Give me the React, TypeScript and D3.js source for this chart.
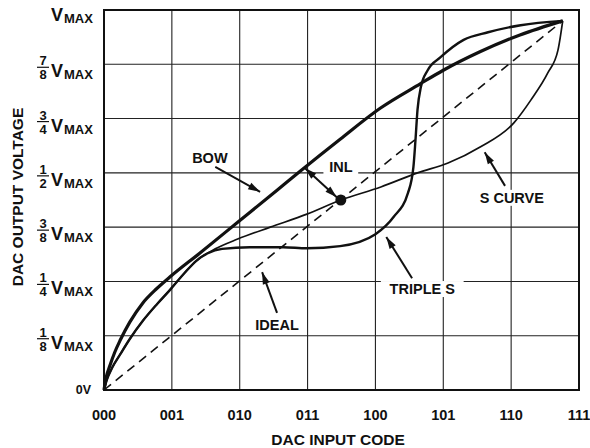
import React from "react";
import * as d3 from "d3";

// x = input code step (000..111), y = grid step (0V..VMAX)
const xCodes = ["000", "001", "010", "011", "100", "101", "110", "111"];
const yTickLabels = ["0V", "1/8", "1/4", "3/8", "1/2", "3/4", "7/8", "VMAX"];

const ideal: [number, number][] = [
  [0, 0],
  [6.76, 6.8],
];

const bow: [number, number][] = [
  [0, 0], [0.03, 0.22], [0.09, 0.46], [0.16, 0.7], [0.24, 0.92], [0.38, 1.25],
  [0.57, 1.6], [0.77, 1.86], [0.97, 2.08], [1.41, 2.52], [1.97, 3.09],
  [2.55, 3.68], [2.89, 4.03], [3.48, 4.62], [4.07, 5.19], [4.66, 5.64],
  [5.0, 5.89], [5.54, 6.23], [6.13, 6.54], [6.76, 6.8],
];

const sCurve: [number, number][] = [
  [0, 0], [0.04, 0.18], [0.12, 0.41], [0.24, 0.66], [0.38, 0.94], [0.57, 1.27],
  [0.78, 1.58], [0.97, 1.84], [1.19, 2.16], [1.36, 2.38], [1.64, 2.6],
  [1.97, 2.78], [2.45, 3.0], [2.99, 3.24], [3.49, 3.5], [4.08, 3.74],
  [4.62, 4.0], [5.07, 4.18], [5.55, 4.48], [6.04, 4.92], [6.29, 5.34],
  [6.54, 5.84], [6.69, 6.26], [6.76, 6.8],
];

const tripleS: [number, number][] = [
  [0, 0], [0.04, 0.18], [0.12, 0.41], [0.24, 0.66], [0.38, 0.94], [0.57, 1.27],
  [0.78, 1.58], [0.97, 1.84], [1.19, 2.16], [1.36, 2.38], [1.53, 2.52],
  [1.74, 2.6], [2.15, 2.63], [2.64, 2.63], [2.99, 2.61], [3.48, 2.65],
  [4.0, 2.87], [4.27, 3.19], [4.48, 3.63], [4.56, 4.11], [4.59, 4.6],
  [4.62, 5.16], [4.67, 5.58], [4.77, 5.89], [4.96, 6.13], [5.3, 6.45],
  [5.66, 6.59], [6.14, 6.72], [6.76, 6.8],
];

const inlPoint: [number, number] = [3.49, 3.5];

// label text, text position, arrow from, arrow to, double headed
const notes = [
  { text: "BOW", at: [1.56, 4.27], from: [1.64, 4.11], to: [2.3, 3.65], both: false },
  { text: "INL", at: [3.49, 4.11], from: [2.96, 4.09], to: [3.43, 3.55], both: true },
  { text: "S CURVE", at: [6.01, 3.54], from: [5.91, 3.76], to: [5.61, 4.38], both: false },
  { text: "TRIPLE S", at: [4.69, 1.86], from: [4.54, 2.06], to: [4.16, 2.82], both: false },
  { text: "IDEAL", at: [2.55, 1.2], from: [2.55, 1.42], to: [2.33, 2.17], both: false },
];

const W = 590;
const H = 448;
const FONT = "'Liberation Sans', Arial, Helvetica, sans-serif";

function head(x1: number, y1: number, x2: number, y2: number) {
  const a = Math.atan2(y2 - y1, x2 - x1);
  const L = 12, w = 3.6;
  const bx = x2 - L * Math.cos(a), by = y2 - L * Math.sin(a);
  const px = -Math.sin(a) * w, py = Math.cos(a) * w;
  return `${x2},${y2} ${bx + px},${by + py} ${bx - px},${by - py}`;
}

export default function App() {
  const x = d3.scaleLinear().domain([0, 7]).range([104, 579]);
  const y = d3.scaleLinear().domain([0, 7]).range([390, 10]);

  const line = d3
    .line<[number, number]>()
    .x((d) => x(d[0]))
    .y((d) => y(d[1]))
    .curve(d3.curveMonotoneX);

  const steps = d3.range(0, 8);

  return (
    <svg
      width={W}
      height={H}
      style={{ position: "absolute", left: 0, top: 0, background: "#fff" }}
      fontFamily={FONT}
      fontWeight="bold"
      fill="#111"
    >
      {/* grid */}
      <g stroke="#222" strokeWidth={1.1}>
        {steps.slice(1, 7).map((i) => (
          <line key={"gx" + i} x1={x(i)} x2={x(i)} y1={y(0)} y2={y(7)} />
        ))}
        {steps.slice(1, 7).map((i) => (
          <line key={"gy" + i} x1={x(0)} x2={x(7)} y1={y(i)} y2={y(i)} />
        ))}
      </g>
      <rect
        x={x(0)}
        y={y(7)}
        width={x(7) - x(0)}
        height={y(0) - y(7)}
        fill="none"
        stroke="#111"
        strokeWidth={2}
      />

      {/* white patches behind annotation text */}
      {notes.map((n) => {
        const w = n.text.length * 9.6;
        return (
          <rect
            key={"bg" + n.text}
            x={x(n.at[0]) - w / 2 - 3}
            y={y(n.at[1]) - 8}
            width={w + 6}
            height={16}
            fill="#fff"
          />
        );
      })}

      {/* curves */}
      <path d={line(ideal) ?? ""} fill="none" stroke="#111" strokeWidth={1.6} strokeDasharray="9 6" />
      <path d={line(sCurve) ?? ""} fill="none" stroke="#111" strokeWidth={1.7} />
      <path d={line(tripleS) ?? ""} fill="none" stroke="#111" strokeWidth={2.4} />
      <path d={line(bow) ?? ""} fill="none" stroke="#111" strokeWidth={3.2} />
      <circle cx={x(inlPoint[0])} cy={y(inlPoint[1])} r={5.5} fill="#111" />

      {/* annotations */}
      {notes.map((n) => {
        const x1 = x(n.from[0]), y1 = y(n.from[1]);
        const x2 = x(n.to[0]), y2 = y(n.to[1]);
        return (
          <g key={n.text}>
            <line x1={x1} y1={y1} x2={x2} y2={y2} stroke="#111" strokeWidth={2} />
            <polygon points={head(x1, y1, x2, y2)} fill="#111" />
            {n.both && <polygon points={head(x2, y2, x1, y1)} fill="#111" />}
            <text x={x(n.at[0])} y={y(n.at[1])} dy="0.36em" textAnchor="middle" fontSize={14.5}>
              {n.text}
            </text>
          </g>
        );
      })}

      {/* x tick labels */}
      {xCodes.map((c, i) => (
        <text key={c} x={x(i)} y={420} textAnchor="middle" fontSize={14.5}>
          {c}
        </text>
      ))}

      {/* y tick labels */}
      {yTickLabels.map((lab, i) => {
        const yy = y(i);
        if (lab === "0V") {
          return (
            <text key={lab} x={91} y={yy + 4} textAnchor="end" fontSize={12.5}>
              0V
            </text>
          );
        }
        const frac = lab.includes("/") ? lab.split("/") : null;
        const base = frac ? yy + 13 : yy + 11;
        return (
          <g key={lab}>
            {frac && (
              <g>
                <text x={43} y={yy + 1} textAnchor="middle" fontSize={13}>
                  {frac[0]}
                </text>
                <line x1={37} x2={49} y1={yy + 3} y2={yy + 3} stroke="#111" strokeWidth={1.2} />
                <text x={43} y={yy + 15} textAnchor="middle" fontSize={13}>
                  {frac[1]}
                </text>
              </g>
            )}
            <text x={51} y={base} fontSize={18}>
              V
            </text>
            <text x={64} y={base + 2} fontSize={13}>
              MAX
            </text>
          </g>
        );
      })}

      {/* axis titles */}
      <text x={338} y={445} textAnchor="middle" fontSize={15.5}>
        DAC INPUT CODE
      </text>
      <text
        x={23}
        y={197}
        textAnchor="middle"
        fontSize={15.5}
        transform="rotate(-90, 23, 197)"
      >
        DAC OUTPUT VOLTAGE
      </text>
    </svg>
  );
}
